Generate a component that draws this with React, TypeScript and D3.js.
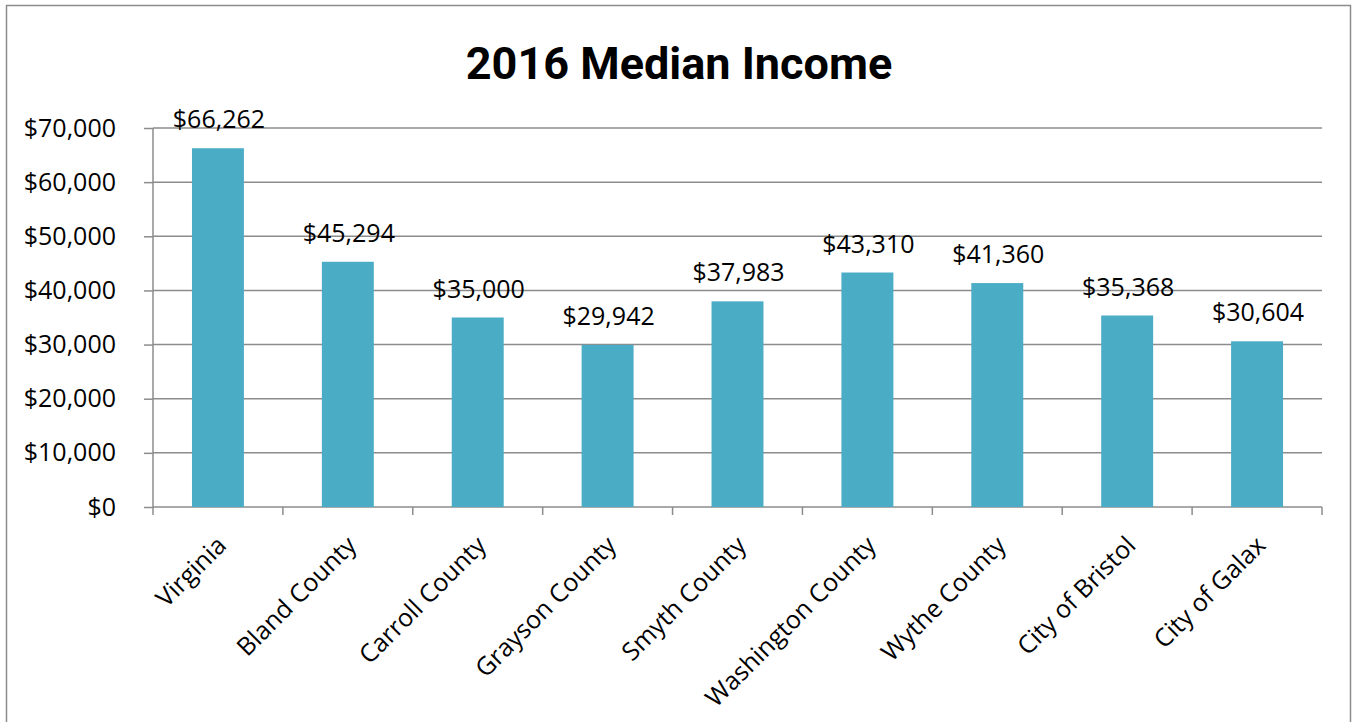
import React, { useEffect, useRef } from 'react';
import * as d3 from 'd3';

const categories = [
  'Virginia',
  'Bland County',
  'Carroll County',
  'Grayson County',
  'Smyth County',
  'Washington County',
  'Wythe County',
  'City of Bristol',
  'City of Galax',
];
const incomes = [66262, 45294, 35000, 29942, 37983, 43310, 41360, 35368, 30604];
const yTicks = [0, 10000, 20000, 30000, 40000, 50000, 60000, 70000];

const W = 1357;
const H = 722;
const FONT = "'Open Sans', 'Noto Sans', sans-serif";

const App = () => {
  const ref = useRef<SVGSVGElement>(null);

  useEffect(() => {
    const svg = d3.select(ref.current);
    svg.selectAll('*').remove();

    const left = 153;
    const right = 1322;
    const top = 128;
    const bottom = 507;

    const x = d3.scaleBand<string>().domain(categories).range([left, right]).padding(0);
    const y = d3.scaleLinear().domain([0, 70000]).range([bottom, top]);
    const fmt = (v: number) => '$' + d3.format(',')(v);

    // chart border
    svg.append('rect')
      .attr('x', 6.5).attr('y', 5.5)
      .attr('width', 1344).attr('height', 740)
      .attr('fill', '#fff')
      .attr('stroke', '#8c8c8c')
      .attr('stroke-width', 1.5);

    svg.append('text')
      .attr('x', 679).attr('y', 79)
      .attr('text-anchor', 'middle')
      .style('font-family', "Roboto, 'Open Sans', sans-serif")
      .style('font-weight', 'bold')
      .style('font-size', '45px')
      .text('2016 Median Income');

    // gridlines
    svg.append('g')
      .selectAll('line')
      .data(yTicks.slice(1))
      .enter()
      .append('line')
      .attr('x1', left).attr('x2', right)
      .attr('y1', (d) => y(d)).attr('y2', (d) => y(d))
      .attr('stroke', '#8c8c8c')
      .attr('stroke-width', 1.5);

    // y axis
    const yAxis = svg.append('g')
      .attr('transform', `translate(${left},0)`)
      .call(d3.axisLeft(y).tickValues(yTicks).tickSize(9).tickPadding(28).tickFormat((d) => fmt(d as number)));
    yAxis.selectAll('line, path').attr('stroke', '#8c8c8c').attr('stroke-width', 1.5);
    yAxis.select('path').attr('d', `M0,${top}V${bottom}`);
    yAxis.selectAll('text')
      .attr('fill', '#000')
      .style('font-family', FONT)
      .style('font-size', '25px');

    // x axis line + ticks at band edges
    const xAxis = svg.append('g');
    xAxis.append('line')
      .attr('x1', left).attr('x2', right)
      .attr('y1', bottom).attr('y2', bottom)
      .attr('stroke', '#8c8c8c').attr('stroke-width', 1.5);
    const edges = categories.map((c) => x(c) as number).concat([right]);
    xAxis.selectAll('line.tick')
      .data(edges)
      .enter()
      .append('line')
      .attr('class', 'tick')
      .attr('x1', (d) => d).attr('x2', (d) => d)
      .attr('y1', bottom).attr('y2', bottom + 8)
      .attr('stroke', '#8c8c8c').attr('stroke-width', 1.5);

    const barW = x.bandwidth() * 0.4;
    const cx = (i: number) => (x(categories[i]) as number) + x.bandwidth() / 2;

    svg.append('g')
      .selectAll('rect')
      .data(incomes)
      .enter()
      .append('rect')
      .attr('x', (d, i) => cx(i) - barW / 2)
      .attr('width', barW)
      .attr('y', (d) => y(d))
      .attr('height', (d) => bottom - y(d))
      .attr('fill', '#4BACC6');

    svg.append('g')
      .selectAll('text')
      .data(incomes)
      .enter()
      .append('text')
      .attr('x', (d, i) => cx(i) + 1)
      .attr('y', (d) => y(d) - 20)
      .attr('text-anchor', 'middle')
      .style('font-family', FONT)
      .style('font-size', '25px')
      .text((d) => fmt(d));

    svg.append('g')
      .selectAll('text')
      .data(categories)
      .enter()
      .append('text')
      .attr('transform', (d, i) => `translate(${cx(i) + 10},${bottom + 40}) rotate(-45)`)
      .attr('text-anchor', 'end')
      .style('font-family', FONT)
      .style('font-size', '25px')
      .text((d) => d);
  }, []);

  return (
    <div style={{ position: 'absolute', left: 0, top: 0 }}>
      <svg ref={ref} width={W} height={H} style={{ display: 'block' }} />
    </div>
  );
};

export default App;
